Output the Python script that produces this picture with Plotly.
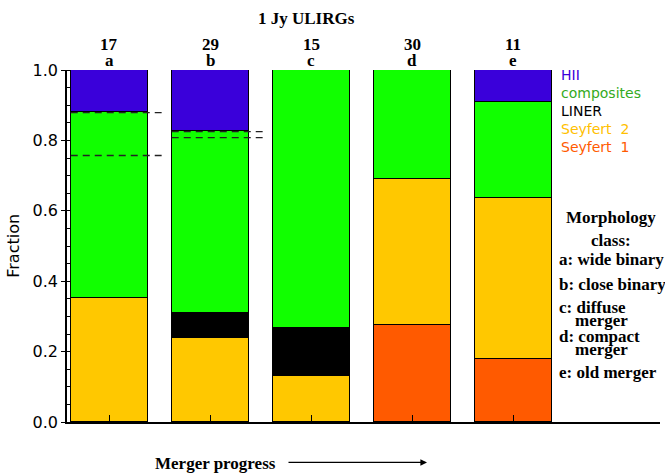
import plotly.graph_objects as go

# Morphology classes along the merger sequence and number of objects in each
classes = ["a", "b", "c", "d", "e"]
counts = [17, 29, 15, 30, 11]

# Fraction of each spectral type per class (stacked bottom to top)
seyfert1 = [None, None, None, 0.275, 0.179]
seyfert2 = [0.352, 0.240, 0.130, 0.415, 0.457]
liner = [None, 0.071, 0.136, None, None]
composites = [0.529, 0.517, 0.734, 0.310, 0.273]
hii = [0.119, 0.172, None, None, 0.091]

# Alternative (dashed) boundary levels for classes a and b
dashed_levels = {0: [0.879, 0.757], 1: [0.825, 0.808]}

series = [
    ("Seyfert 1", seyfert1, "#FF5A00", "#FF5A00"),
    ("Seyfert 2", seyfert2, "#FFC800", "#FFC000"),
    ("LINER", liner, "#000000", "#000000"),
    ("composites", composites, "#11FF00", "#33AA22"),
    ("HII", hii, "#3A00DA", "#3A00DA"),
]

morph_lines = [
    ("a: wide binary", 557, 260),
    ("b: close binary", 557, 285),
    ("c: diffuse", 557, 308),
    ("merger", 573, 321),
    ("d: compact", 557, 337),
    ("merger", 573, 350),
    ("e: old merger", 557, 373),
]

W, H = 665, 475
L, R, T, B = 67, 5, 70, 52.5
BAR_W = 0.762
X_RANGE = [-0.418, 5.453]


def px(x, y):
    """Convert page pixel position to paper coordinates."""
    return (x - L) / (W - L - R), (H - B - y) / (H - B - T)


fig = go.Figure()
xs = list(range(len(classes)))
for name, vals, color, _ in series:
    fig.add_trace(go.Bar(
        x=xs, y=vals, name=name, width=BAR_W,
        marker=dict(color=color, line=dict(color="#000000", width=1)),
        showlegend=False,
    ))

# dashed lines marking alternative boundaries
for i, levels in dashed_levels.items():
    for lv in levels:
        fig.add_shape(type="line", xref="x", yref="y",
                      x0=i - BAR_W / 2, x1=i - BAR_W / 2 + 0.9, y0=lv, y1=lv,
                      line=dict(color="#222222", width=1.4, dash="7px,5px"))

serif = "Liberation Serif"
sans = "DejaVu Sans"
ann = []

# Title
x, y = px(306, 18)
ann.append(dict(x=x, y=y, text="<b>1 Jy ULIRGs</b>", font=dict(family=serif, size=17)))

# counts and class letters above bars
for i, (c, n) in enumerate(zip(classes, counts)):
    ann.append(dict(x=i, xref="x", y=px(0, 44)[1], text=f"<b>{n}</b>",
                    font=dict(family=serif, size=17)))
    ann.append(dict(x=i, xref="x", y=px(0, 60)[1], text=f"<b>{c}</b>",
                    font=dict(family=serif, size=17)))

# spectral type key
for k, (name, _, _, tcolor) in enumerate(reversed(series)):
    x, y = px(559, 75 + k * 18)
    ann.append(dict(x=x, y=y, text=name.replace(" ", "\u00a0\u00a0"), xanchor="left",
                    font=dict(family=sans, size=14, color=tcolor)))

# morphology class key
for text, yy in (("Morphology", 218), ("class:", 241)):
    x, y = px(611, yy)
    ann.append(dict(x=x, y=y, text=f"<b>{text}</b>", font=dict(family=serif, size=17)))
for text, xx, yy in morph_lines:
    x, y = px(xx, yy)
    ann.append(dict(x=x, y=y, text=f"<b>{text}</b>", xanchor="left",
                    font=dict(family=serif, size=17)))

# y-axis title
x, y = px(14, 246)
ann.append(dict(x=x, y=y, text="Fraction", textangle=-90,
                font=dict(family=sans, size=16)))

# merger progress label and arrow
x, y = px(215, 464)
ann.append(dict(x=x, y=y, text="<b>Merger progress</b>", font=dict(family=serif, size=17)))
x, y = px(427, 463)
ann.append(dict(x=x, y=y, text="", showarrow=True, ax=-140, ay=0,
                arrowhead=2, arrowsize=1.1, arrowwidth=1.2, arrowcolor="#000000"))

for a in ann:
    a.setdefault("xref", "paper")
    a.setdefault("yref", "paper")
    a.setdefault("showarrow", False)
    a.setdefault("yanchor", "middle")
    a.setdefault("xanchor", "center")
    a.setdefault("font", {})
    a["font"].setdefault("color", "#000000")

fig.update_layout(
    width=W, height=H,
    margin=dict(l=L, r=R, t=T, b=B, pad=0),
    paper_bgcolor="white", plot_bgcolor="white",
    barmode="stack", bargap=0,
    annotations=ann,
    xaxis=dict(range=X_RANGE, tickvals=xs, showticklabels=False,
               ticks="inside", ticklen=7, tickwidth=1, tickcolor="#000000",
               showline=True, linewidth=1.5, linecolor="#000000",
               showgrid=False, zeroline=False, fixedrange=True),
    yaxis=dict(range=[0, 1], tickvals=[0, 0.2, 0.4, 0.6, 0.8, 1.0],
               ticktext=["0.0", "0.2", "0.4", "0.6", "0.8", "1.0"],
               ticks="outside", ticklen=4, tickwidth=1, tickcolor="#000000",
               minor=dict(dtick=0.05, ticks="inside", ticklen=4, tickcolor="#000000"),
               tickfont=dict(family=sans, size=16, color="#000000"),
               showline=True, linewidth=1.5, linecolor="#000000",
               showgrid=False, zeroline=False, fixedrange=True),
)

fig.write_html("out.html")
